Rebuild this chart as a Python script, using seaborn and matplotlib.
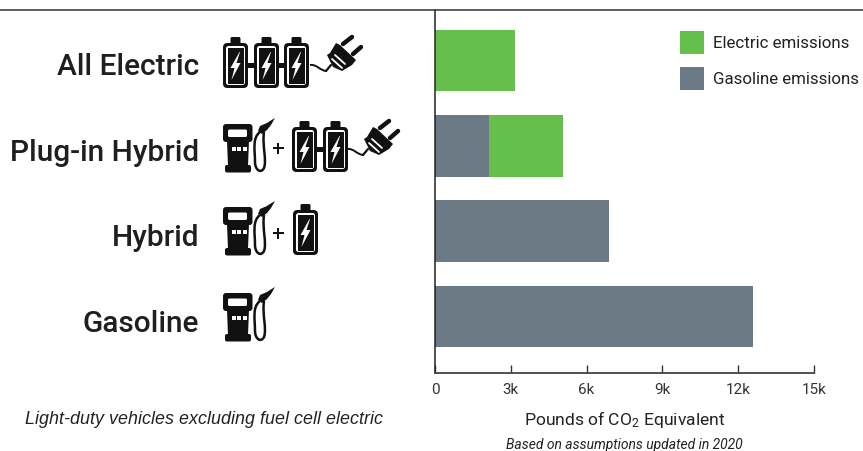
import matplotlib
matplotlib.use("Agg")
import matplotlib.pyplot as plt
import seaborn as sns
import pandas as pd
from matplotlib.patches import FancyBboxPatch, Polygon, PathPatch, Rectangle
from matplotlib.path import Path
from matplotlib.transforms import ScaledTranslation

# values
vehicles = ["All Electric", "Plug-in Hybrid", "Hybrid", "Gasoline"]
electric_top = [3170, 5070, 0, 0]
gasoline = [0, 2150, 6900, 12600]
xticks = [0, 3000, 6000, 9000, 12000, 15000]
xticklabels = ["0", "3k", "6k", "9k", "12k", "15k"]

GREEN = "#66BF4A"
GRAY = "#6C7A85"
DARK = "#1f1f1f"
NARROW = ["Roboto", "DejaVu Sans"]

sns.set_theme(style="white")
plt.rcParams["font.family"] = NARROW
plt.rcParams["mathtext.fontset"] = "custom"
plt.rcParams["mathtext.rm"] = "Roboto"
plt.rcParams["mathtext.default"] = "rm"

W, H = 863, 451
fig = plt.figure(figsize=(W / 100, H / 100), dpi=100)
ax = fig.add_axes([435 / W, 1 - 373 / H, 379 / W, 363 / H])

df = pd.DataFrame({"vehicle": vehicles, "electric": electric_top, "gasoline": gasoline})
sns.barplot(df, x="electric", y="vehicle", color=GREEN, width=0.72, saturation=1, linewidth=0,
            label="Electric emissions", ax=ax)
sns.barplot(df, x="gasoline", y="vehicle", color=GRAY, width=0.72, saturation=1, linewidth=0,
            label="Gasoline emissions", ax=ax)

ax.set_xlim(0, 15000)
ax.set_ylim(3.66, -0.59)
ax.set_xticks(xticks)
ax.set_xticklabels(xticklabels)
ax.tick_params(axis="x", direction="in", length=6, width=1, color="#333333", labelsize=11,
               labelcolor="#333333", pad=7, bottom=True)
ax.tick_params(axis="y", length=0, pad=170, labelsize=21.5, labelcolor=DARK)
shift = ScaledTranslation(0, -4 / 100, fig.dpi_scale_trans)
for tick in ax.yaxis.get_major_ticks():
    lab = tick.label1
    lab.set_fontweight("medium")
    lab.set_transform(lab.get_transform() + shift)
for s in ["top", "right"]:
    ax.spines[s].set_visible(False)
ax.spines["left"].set_color("#222222")
ax.spines["left"].set_linewidth(1.1)
ax.spines["bottom"].set_color("#444444")
ax.spines["bottom"].set_linewidth(1.3)
ax.set_ylabel("")
ax.set_xlabel("Pounds of CO$_2$ Equivalent", fontsize=12.6, color="#222222", labelpad=9)

ax.legend(loc="upper left", bbox_to_anchor=((680 - 435) / 379, (373 - 31) / 363), frameon=False,
          fontsize=12.2, handlelength=1.42, handleheight=1.75, handletextpad=0.53,
          labelspacing=0.73, borderpad=0, borderaxespad=0, labelcolor="#222222")

# overlay in reference pixels for the rule, captions and icons
ov = fig.add_axes([0, 0, 1, 1], zorder=5)
ov.set_xlim(0, W)
ov.set_ylim(H, 0)
ov.axis("off")
ov.patch.set_alpha(0)
ov.plot([0, W], [10, 10], color="#333333", lw=1.1)
ov.text(25, 419, "Light-duty vehicles excluding fuel cell electric", style="italic", fontsize=12.9,
        family=["Liberation Sans", "DejaVu Sans"], color="#222222", va="center", ha="left")
ov.text(624.5, 444.5, "Based on assumptions updated in 2020", style="italic", fontsize=10,
        color="#222222", va="center", ha="center")

INK = "#111111"


def rrect(x, y, w, h, r, color):
    ov.add_patch(FancyBboxPatch((x + r, y + r), w - 2 * r, h - 2 * r, boxstyle=f"round,pad={r}",
                                fc=color, ec="none"))


def battery(x, y):
    rrect(x + 7.5, y - 6, 10, 8, 1.5, INK)
    rrect(x, y, 25, 45, 4.5, INK)
    rrect(x + 3, y + 3, 19, 39, 2.5, "white")
    ov.add_patch(Rectangle((x + 4.5, y + 4.5), 16, 36, fc=INK, ec="none"))
    bolt = [(16.5, 9), (7.5, 25), (11.5, 25), (8.5, 37), (17.5, 20), (13.5, 20), (17, 9)]
    ov.add_patch(Polygon([(x + a, y + b) for a, b in bolt], fc="white", ec="none"))


def link(x, y):
    ov.add_patch(Rectangle((x - 0.5, y + 19.5), 7.5, 5, fc=INK, ec="none"))


def plug(x, y):
    # x, y is the end of the cord next to the last battery
    wire = [(x, y), (x + 7, y - 1), (x + 10, y + 6), (x + 17, y + 6)]
    cd = [Path.MOVETO, Path.CURVE4, Path.CURVE4, Path.CURVE4]
    ov.add_patch(PathPatch(Path(wire, cd), fc="none", ec=INK, lw=1.4))
    ov.plot([x + 16, x + 21], [y + 6, y + 0], color=INK, lw=1.6)
    body = [(x + 26, y - 22), (x + 30, y - 20), (x + 46, y - 5), (x + 42, y + 0), (x + 32, y + 6),
            (x + 23, y + 2), (x + 17, y - 10), (x + 20, y - 12)]
    ov.add_patch(Polygon(body, fc=INK, ec="none"))
    ov.plot([x + 33, x + 42], [y - 21, y - 28], color=INK, lw=3.2, solid_capstyle="round")
    ov.plot([x + 43, x + 51], [y - 11, y - 18], color=INK, lw=3.2, solid_capstyle="round")
    ov.plot([x + 25, x + 35], [y - 10, y - 1], color="white", lw=1.3)
    ov.plot([x + 22, x + 32], [y - 6, y + 3], color="white", lw=1.3)


def pump(x, y):
    rrect(x, y, 29.5, 18, 3, INK)
    rrect(x + 5, y + 5.5, 19, 7.5, 1.5, "white")
    ov.add_patch(Polygon([(x + 4, y + 17), (x + 26, y + 17), (x + 25, y + 42), (x + 5, y + 42)],
                         fc=INK, ec="none"))
    for dx in (8.5, 14, 19.5):
        ov.add_patch(Rectangle((x + dx, y + 23), 4, 3.5, fc="white", ec="none"))
    rrect(x + 2, y + 41, 26, 7.5, 2, INK)
    hose = [(x + 37, y + 8), (x + 29, y + 14), (x + 32, y + 26), (x + 32, y + 38),
            (x + 32, y + 46), (x + 38, y + 50), (x + 41, y + 44),
            (x + 44, y + 36), (x + 39, y + 22), (x + 41, y + 8)]
    cd = [Path.MOVETO] + [Path.CURVE4] * 9
    ov.add_patch(PathPatch(Path(hose, cd), fc="none", ec=INK, lw=1.8))
    noz = [(35, 7), (37, 2), (44, -1), (47, -3), (52, -6), (48, 1), (44, 6), (39, 10)]
    ov.add_patch(Polygon([(x + a, y + b) for a, b in noz], fc=INK, ec="none"))


def plus(x, y):
    ov.add_patch(Rectangle((x - 5.5, y - 1.2), 11, 2.4, fc=INK, ec="none"))
    ov.add_patch(Rectangle((x - 1.2, y - 5.5), 2.4, 11, fc=INK, ec="none"))


# All Electric
for bx in (223, 254, 284):
    battery(bx, 43)
link(248, 43)
link(278, 43)
plug(310, 65)
# Plug-in Hybrid
pump(223, 124)
plus(278, 148)
for bx in (292, 323):
    battery(bx, 127)
link(317, 127)
plug(347, 149)
# Hybrid
pump(223, 207)
plus(278, 233)
battery(293, 210)
# Gasoline
pump(223, 293)

fig.savefig("out.png", dpi=100)
